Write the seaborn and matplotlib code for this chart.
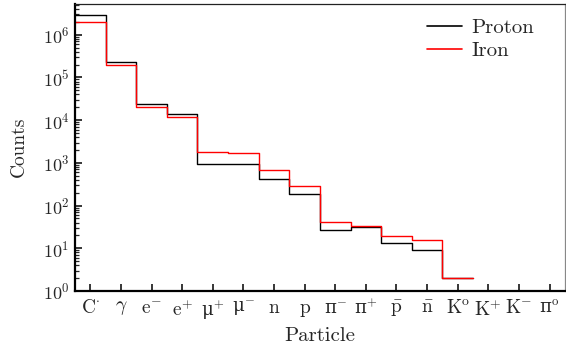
import numpy as np
import pandas as pd
import matplotlib
matplotlib.use("Agg")
import matplotlib.pyplot as plt
import seaborn as sns
from matplotlib.ticker import LogLocator, NullFormatter
from matplotlib.lines import Line2D

particles = ["C", "gamma", "e-", "e+", "mu+", "mu-", "n", "p", "pi-", "pi+",
             "pbar", "nbar", "K0", "K+", "K-", "pi0"]
tick_labels = [r"C$^{\cdot}$", r"$\gamma$", r"e$^{-}$", r"e$^{+}$",
               "μ$^{+}$", "μ$^{-}$", "n", "p",
               "π$^{-}$", "π$^{+}$", r"$\bar{\mathrm{p}}$", r"$\bar{\mathrm{n}}$",
               r"K$^{\mathrm{o}}$", r"K$^{+}$", r"K$^{-}$",
               r"π$^{\mathrm{o}}$"]
proton = [2.9e6, 2.35e5, 2.4e4, 1.4e4, 950, 930, 410, 190, 27.5, 32, 13.3, 8.9, 2.0, 0, 0, 0]
iron = [1.95e6, 1.95e5, 2.0e4, 1.2e4, 1800, 1750, 690, 290, 41, 33, 19, 15.5, 2.0, 0, 0, 0]

sns.set_theme(style="ticks")
plt.rcParams["font.family"] = ["cmr10", "DejaVu Serif"]
plt.rcParams["mathtext.fontset"] = "cm"
plt.rcParams["axes.formatter.use_mathtext"] = True
plt.rcParams["axes.unicode_minus"] = False

def frame(name, vals):
    return pd.DataFrame({"idx": [i for i, v in enumerate(vals) if v > 0],
                         "count": [v for v in vals if v > 0], "type": name})

df_p = frame("Proton", proton)
df_i = frame("Iron", iron)

fig = plt.figure(figsize=(5.66, 3.51), dpi=100)
ax = fig.add_axes([0.1325, 0.171, 0.8655, 0.819])

sns.histplot(data=df_p, x="idx", weights="count", discrete=True,
             element="step", fill=False, color="black", linewidth=1.0, ax=ax)
sns.histplot(data=df_i, x="idx", weights="count", discrete=True,
             element="step", fill=False, color="#ff0000", linewidth=1.0, ax=ax)

ax.set_yscale("log")
ax.set_ylim(1, 5.4e6)
ax.set_xlim(-0.5, 15.5)
ax.set_xticks(range(len(particles)))
ax.set_xticklabels(tick_labels, fontsize=14)
for t in ax.get_xticklabels():
    if "μ" in t.get_text() or "π" in t.get_text():
        t.set_fontfamily("DejaVu Serif")
        t.set_fontsize(13)
ax.yaxis.set_major_locator(LogLocator(base=10, numticks=10))
ax.yaxis.set_minor_locator(LogLocator(base=10, subs=np.arange(2, 10), numticks=20))
ax.yaxis.set_minor_formatter(NullFormatter())
ax.tick_params(axis="y", which="major", direction="in", length=5, width=1.3, labelsize=13, pad=4)
ax.tick_params(axis="y", which="minor", direction="in", length=3, width=0.9)
ax.tick_params(axis="x", which="major", direction="in", length=5, width=1.3, pad=6)
ax.tick_params(axis="x", which="minor", bottom=False)

for s in ["left", "bottom"]:
    ax.spines[s].set_linewidth(1.6)
    ax.spines[s].set_color("black")
ax.spines["top"].set_linewidth(0.9)
ax.spines["top"].set_color("#222222")
ax.spines["right"].set_linewidth(0.9)
ax.spines["right"].set_color("#888888")
for s in ax.spines.values():
    s.set_visible(True)

ax.set_xlabel("Particle", fontsize=15, labelpad=4)
ax.set_ylabel("Counts", fontsize=14, labelpad=11)

handles = [Line2D([], [], color="black", lw=1.2), Line2D([], [], color="#ff0000", lw=1.2)]
ax.legend(handles, ["Proton", "Iron"], loc="upper right", bbox_to_anchor=(0.967, 0.998),
          frameon=False, fontsize=15, handlelength=1.7, handletextpad=0.45,
          labelspacing=0.2, borderaxespad=0.3)

fig.savefig("out.png", dpi=100)
